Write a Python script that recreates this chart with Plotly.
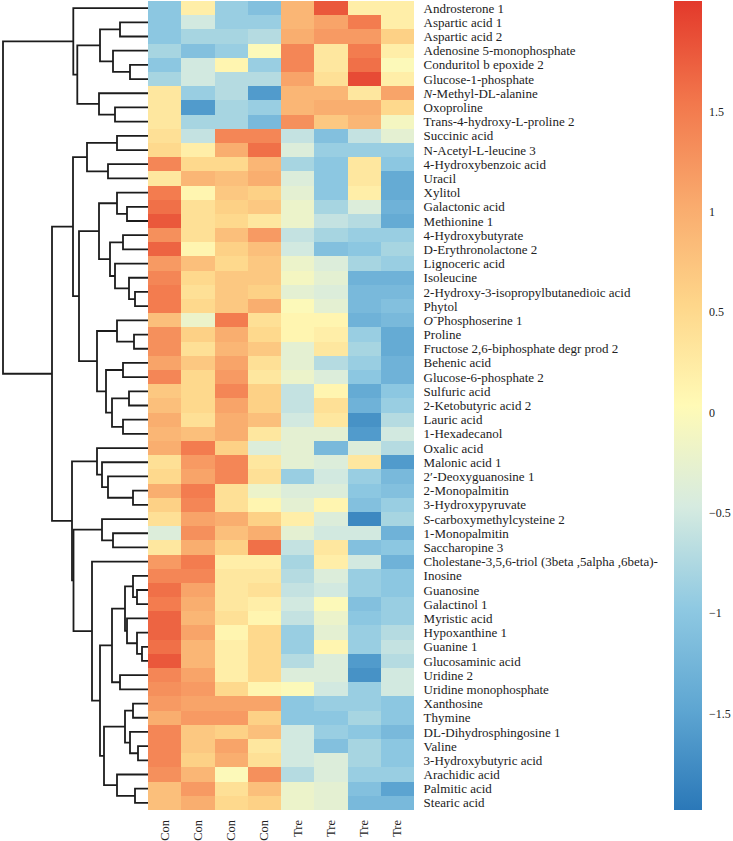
import plotly.graph_objects as go

labels = [
    "Androsterone 1", "Aspartic acid 1", "Aspartic acid 2", "Adenosine 5-monophosphate",
    "Conduritol b epoxide 2", "Glucose-1-phosphate", "<i>N</i>-Methyl-DL-alanine", "Oxoproline",
    "Trans-4-hydroxy-L-proline 2", "Succinic acid", "N-Acetyl-L-leucine 3", "4-Hydroxybenzoic acid",
    "Uracil", "Xylitol", "Galactonic acid", "Methionine 1", "4-Hydroxybutyrate",
    "D-Erythronolactone 2", "Lignoceric acid", "Isoleucine",
    "2-Hydroxy-3-isopropylbutanedioic acid", "Phytol", "<i>O</i>\u207bPhosphoserine 1", "Proline",
    "Fructose 2,6-biphosphate degr prod 2", "Behenic acid", "Glucose-6-phosphate 2",
    "Sulfuric acid", "2-Ketobutyric acid 2", "Lauric acid", "1-Hexadecanol", "Oxalic acid",
    "Malonic acid 1", "2\u2032-Deoxyguanosine 1", "2-Monopalmitin", "3-Hydroxypyruvate",
    "<i>S</i>-carboxymethylcysteine 2", "1-Monopalmitin", "Saccharopine 3",
    "Cholestane-3,5,6-triol (3beta ,5alpha ,6beta)-", "Inosine", "Guanosine", "Galactinol 1",
    "Myristic acid", "Hypoxanthine 1", "Guanine 1", "Glucosaminic acid", "Uridine 2",
    "Uridine monophosphate", "Xanthosine", "Thymine", "DL-Dihydrosphingosine 1", "Valine",
    "3-Hydroxybutyric acid", "Arachidic acid", "Palmitic acid", "Stearic acid",
]

samples = ["Con", "Con", "Con", "Con", "Tre", "Tre", "Tre", "Tre"]

con_1 = [-1.0, -1.0, -1.0, -0.8, -1.0, -0.8, 0.3, 0.3, 0.3, 0.4, 0.5, 1.4, 0.3, 1.5, 1.6, 1.8,
         1.3, 1.7, 1.2, 1.4, 1.5, 1.5, 0.8, 1.3, 1.3, 1.1, 1.4, 0.7, 0.8, 1.0, 0.9, 1.0, 0.4,
         0.5, 1.0, 0.6, 0.4, -0.4, 0.3, 1.2, 1.4, 1.6, 1.5, 1.7, 1.7, 1.6, 1.8, 1.4, 1.3, 1.2,
         1.0, 1.4, 1.4, 1.4, 1.3, 0.8, 0.8]
con_2 = [0.2, -0.5, -0.8, -1.1, -0.5, -0.5, -0.9, -1.6, -0.8, -0.6, 0.2, 0.5, 0.9, 0.1, 0.4,
         0.4, 0.4, 0.1, 0.8, 0.5, 0.4, 0.5, -0.2, 0.6, 0.4, 0.7, 0.5, 0.5, 0.5, 0.4, 0.8, 1.5,
         1.2, 1.1, 1.5, 1.4, 1.1, 1.3, 1.0, 1.5, 1.4, 1.1, 1.0, 0.9, 1.1, 0.9, 0.9, 1.1, 1.2,
         1.1, 1.2, 0.7, 0.7, 0.6, 0.9, 1.2, 1.0]
con_3 = [-0.9, -0.9, -0.8, -0.9, 0.1, -0.7, -0.7, -0.8, -0.8, 1.4, 1.0, 0.5, 0.8, 0.7, 0.6,
         0.5, 0.8, 0.6, 0.5, 0.7, 0.7, 0.7, 1.5, 1.0, 0.9, 1.1, 1.2, 1.4, 1.1, 1.0, 1.0, 0.6,
         1.4, 1.4, 0.4, 0.4, 1.0, 0.8, 0.6, 0.2, 0.3, 0.3, 0.3, 0.4, 0.1, 0.2, 0.2, 0.2, 0.5,
         1.1, 1.2, 0.6, 1.1, 1.0, 0.0, 0.4, 0.5]
con_4 = [-1.1, -0.9, -0.7, 0.0, -0.9, -0.7, -1.6, -0.9, -1.2, 1.4, 1.6, 0.9, 1.0, 0.6, 0.7,
         0.3, 1.2, 0.8, 0.7, 0.7, 0.6, 1.0, 0.4, 0.5, 0.7, 0.4, 0.3, 0.6, 0.6, 0.8, 0.3, -0.4,
         0.3, 0.4, -0.2, 0.1, 0.6, 1.0, 1.6, 0.2, 0.3, 0.4, 0.2, 0.1, 0.5, 0.5, 0.5, 0.5, 0.1,
         1.1, 0.6, 0.8, 0.3, 0.4, 1.3, 0.8, 0.6]
tre_1 = [0.9, 0.9, 1.0, 1.4, 1.4, 1.1, 0.9, 0.9, 1.3, -0.6, -0.4, -0.8, -0.4, -0.3, -0.2,
         -0.2, -0.6, -0.5, -0.2, -0.1, -0.3, 0.0, 0.1, 0.1, -0.3, -0.3, -0.2, -0.6, -0.6, -0.5,
         -0.3, -0.3, -0.3, -0.9, -0.4, -0.3, 0.2, -0.3, -0.6, -0.8, -0.7, -0.6, -0.5, -0.6,
         -0.9, -0.9, -0.7, -0.4, 0.0, -1.0, -1.0, -0.5, -0.5, -0.5, -0.7, -0.2, -0.2]
tre_2 = [1.8, 1.1, 1.2, 0.3, 0.3, 0.4, 0.9, 1.0, 0.7, -1.1, -0.9, -1.0, -1.0, -1.0, -0.8,
         -0.6, -0.8, -1.1, -0.4, -0.3, -0.4, -0.3, 0.1, 0.2, 0.3, -0.7, -0.4, 0.1, 0.4, 0.3,
         -0.3, -1.2, -0.4, -0.5, -0.4, 0.1, -0.4, -0.5, 0.3, 0.2, -0.4, -0.5, 0.0, -0.2, -0.3,
         0.1, -0.4, -0.4, -0.5, -0.9, -1.0, -0.9, -1.1, -0.4, -0.4, -0.3, -0.3]
tre_3 = [0.2, 1.5, 1.2, 1.5, 1.6, 1.9, 0.3, 1.0, 0.9, -0.6, -0.9, 0.3, 0.3, 0.2, -0.4, -0.7,
         -0.9, -1.0, -0.8, -1.3, -1.2, -1.2, -1.3, -0.9, -0.8, -0.9, -1.0, -1.4, -1.3, -1.7,
         -1.6, -0.4, 0.3, -0.9, -1.0, -1.1, -1.8, -0.5, -1.1, -0.5, -0.9, -0.9, -1.1, -1.0,
         -0.9, -0.9, -1.6, -1.7, -0.9, -0.9, -0.8, -1.0, -0.8, -0.8, -0.9, -1.1, -1.2]
tre_4 = [0.2, 0.2, 0.6, 0.2, 0.0, 0.2, 1.1, 0.5, -0.1, -0.3, -0.9, -1.0, -1.4, -1.4, -1.3,
         -1.4, -0.9, -0.8, -0.9, -1.3, -1.2, -1.1, -1.2, -1.4, -1.4, -1.3, -1.3, -1.0, -0.9,
         -0.7, -0.5, -0.7, -1.6, -1.2, -1.1, -0.9, -0.8, -1.3, -1.0, -1.3, -1.0, -1.0, -0.9,
         -0.9, -0.7, -0.6, -0.7, -0.5, -0.5, -1.0, -1.0, -1.2, -1.0, -1.0, -0.9, -1.5, -1.2]

# Row dendrogram: (merge height, left, right); integers are row indices
tree = (145,
        (74.7, 0,
         (70.7,
          (48, (28, 1, 2), (35, 3, (18, 4, 5))),
          (49, 6, (33, 7, 8)))),
        (96,
         (75,
          (61, (31, 9, 10), (40, 11, 12)),
          (69,
           (49, (31, 13, (21, 14, 15)),
            (38, (25, 16, 17), (33, 18, (19, 19, (13, 20, 21))))),
           (51, (31, 22, (14, 23, 24)),
            (42, (25, 25, 26), (36, (19, 27, 28), (25, 29, 30)))))),
         (76,
          (51, 31, (46, 32, (40, 33, (15, 34, 35)))),
          (74.5,
           (46, 36, (35, 37, 38)),
           (56, 39,
            (48,
             (36,
              (23, (15, 40, (11, 41, 42)), (21, 43, (11, 44, (6, 45, 46)))),
              (28, 47, 48)),
             (44,
              (23, (15, 49, 50), (18, 51, (10, 52, 53))),
              (31, 54, (13, 55, 56)))))))))

columns = [con_1, con_2, con_3, con_4, tre_1, tre_2, tre_3, tre_4]
n_rows = len(labels)
z = [[col[i] for col in columns] for i in range(n_rows)]

dx, dy = [], []


def walk(node):
    if isinstance(node, int):
        return float(node), 0.0
    h, left, right = node
    yl, hl = walk(left)
    yr, hr = walk(right)
    dx.extend([hl, h, h, hr, None])
    dy.extend([yl, yl, yr, yr, None])
    return (yl + yr) / 2.0, h


walk(tree)

W, H = 733, 841
hm_left, hm_right = 148, 414
cbar_left = 674

colorscale = [
    [0.0, "#2b78b8"],
    [0.125, "#5ea6d2"],
    [0.25, "#8fc9e2"],
    [0.375, "#d6ebe0"],
    [0.5, "#fffab6"],
    [0.625, "#fed68a"],
    [0.75, "#f9aa6d"],
    [0.875, "#f2774c"],
    [1.0, "#e3392b"],
]

serif = "Liberation Serif, Times New Roman, serif"

fig = go.Figure()
fig.add_trace(go.Heatmap(
    z=z,
    x=list(range(len(samples))),
    y=list(range(n_rows)),
    zmin=-1.98, zmax=2.05,
    colorscale=colorscale,
    xaxis="x", yaxis="y",
    colorbar=dict(
        x=cbar_left / W, xanchor="left",
        y=0.5, yanchor="middle", len=1.0, lenmode="fraction",
        thickness=28, thicknessmode="pixels",
        xpad=0, ypad=0, outlinewidth=0,
        tickvals=[-1.5, -1, -0.5, 0, 0.5, 1, 1.5],
        ticktext=["\u22121.5", "\u22121", "\u22120.5", "0", "0.5", "1", "1.5"],
        ticks="outside", ticklen=5, tickcolor="rgba(0,0,0,0)",
        tickfont=dict(family=serif, size=12, color="#222"),
    ),
    hoverinfo="skip",
))

fig.add_trace(go.Scatter(
    x=dx, y=dy, mode="lines",
    line=dict(color="#1c1c1c", width=1.8),
    xaxis="x2", yaxis="y",
    hoverinfo="skip", showlegend=False,
))

fig.update_layout(
    width=W, height=H,
    margin=dict(l=0, r=0, t=1, b=31),
    paper_bgcolor="white", plot_bgcolor="white",
    showlegend=False,
    xaxis=dict(
        domain=[hm_left / W, hm_right / W],
        range=[-0.5, len(samples) - 0.5],
        tickmode="array", tickvals=list(range(len(samples))), ticktext=samples,
        tickangle=-90, ticks="outside", ticklen=4, tickcolor="rgba(0,0,0,0)",
        tickfont=dict(family=serif, size=12.5, color="#222"),
        showgrid=False, zeroline=False, showline=False, anchor="y",
        automargin=False,
    ),
    xaxis2=dict(
        domain=[0, hm_left / W],
        range=[hm_left, 0],
        visible=False, showgrid=False, zeroline=False, anchor="y",
    ),
    yaxis=dict(
        range=[n_rows - 0.5, -0.5],
        tickmode="array", tickvals=list(range(n_rows)), ticktext=labels,
        side="right", anchor="x",
        ticks="outside", ticklen=6, tickcolor="rgba(0,0,0,0)",
        tickfont=dict(family=serif, size=13, color="#222"),
        showgrid=False, zeroline=False, showline=False,
        automargin=False,
    ),
)

fig.write_html(
    "out.html",
    config={"displayModeBar": False, "staticPlot": True},
    post_script="document.body.style.margin='0';",
)
